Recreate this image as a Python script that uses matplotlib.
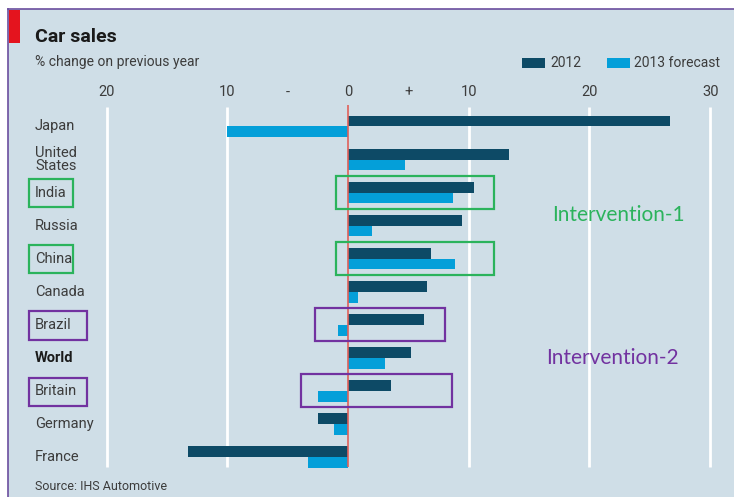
import numpy as np
import matplotlib
matplotlib.use("Agg")
import matplotlib.pyplot as plt
from matplotlib.patches import Rectangle
from matplotlib.transforms import blended_transform_factory

# data (% change on previous year)
countries = ["Japan", "United\nStates", "India", "Russia", "China", "Canada",
             "Brazil", "World", "Britain", "Germany", "France"]
sales_2012 = [26.7, 13.3, 10.4, 9.4, 6.9, 6.5, 6.3, 5.2, 3.6, -2.5, -13.3]
sales_2013 = [-10.0, 4.7, 8.7, 2.0, 8.9, 0.85, -0.8, 3.1, -2.5, -1.2, -3.3]
tick_pos = [-20, -10, -5, 0, 5, 10, 20, 30]
tick_txt = ["20", "10", "-", "0", "+", "10", "20", "30"]
grid_pos = [-20, -10, 10, 20, 30]

W, H = 734, 497
BG = "#cfdee7"
DARK = "#0d4a66"
LIGHT = "#049fd9"
GREEN = "#2bb35c"
PURPLE = "#7232a0"
TXT = "#3c3c3c"

plt.rcParams["font.family"] = ["Roboto", "DejaVu Sans"]

fig = plt.figure(figsize=(W / 100, H / 100), dpi=100, facecolor="white")

def px(x, y, w, h):
    # pixel box (top-left origin) -> figure fraction
    return [x / W, 1 - (y + h) / H, w / W, h / H]

# panel background + purple frame + red tag
fig.patches.append(Rectangle((8 / W, 0), 1, 1 - 9 / H, transform=fig.transFigure,
                             facecolor=BG, edgecolor="none", zorder=-10))
fig.add_artist(plt.Line2D([8 / W, 1], [1 - 9 / H] * 2, color="#6b4e9e", lw=1.2))
fig.add_artist(plt.Line2D([8 / W] * 2, [0, 1 - 9 / H], color="#6b4e9e", lw=1.2))
fig.patches.append(Rectangle((9 / W, 1 - 43 / H), 11 / W, 33 / H, transform=fig.transFigure,
                             facecolor="#e4141e", edgecolor="none"))

fig.text(35 / W, 1 - 37 / H, "Car sales", fontsize=14, fontweight="bold",
         color="#1a1a1a", va="center")
fig.text(35 / W, 1 - 62 / H, "% change on previous year", fontsize=10,
         color=TXT, va="center")
fig.text(35 / W, 1 - 487 / H, "Source: IHS Automotive", fontsize=9,
         color=TXT, va="center")

# legend
fig.patches.append(Rectangle((522 / W, 1 - 68 / H), 23 / W, 10 / H,
                             transform=fig.transFigure, facecolor=DARK))
fig.text(550 / W, 1 - 63 / H, "2012", fontsize=10, color=TXT, va="center")
fig.patches.append(Rectangle((607 / W, 1 - 68 / H), 23 / W, 10 / H,
                             transform=fig.transFigure, facecolor=LIGHT))
fig.text(634 / W, 1 - 63 / H, "2013 forecast", fontsize=10, color=TXT, va="center")

ax = fig.add_axes(px(100, 105, 625, 365))
ax.set_facecolor("none")
ax.set_xlim(-20.55, 31.23)
ax.set_ylim(10.4, -0.65)
for s in ax.spines.values():
    s.set_visible(False)
ax.set_yticks([])
ax.xaxis.tick_top()
ax.set_xticks(tick_pos)
ax.set_xticklabels(tick_txt, fontsize=10.5, color=TXT)
ax.tick_params(axis="x", length=0, pad=4)

y = np.arange(len(countries))
h = 0.33
ax.vlines(grid_pos, -0.6, 10.3, color="white", lw=2, zorder=1)
ax.barh(y - h / 2, sales_2012, height=h, color=DARK, zorder=2)
ax.barh(y + h / 2, sales_2013, height=h, color=LIGHT, zorder=2)
ax.vlines(0, -0.65, 10.3, color="#e0605a", lw=1.2, zorder=3)

# country labels at the left
lab = blended_transform_factory(fig.transFigure, ax.transData)
for i, c in enumerate(countries):
    ax.text(35 / W, i, c, transform=lab, fontsize=10.5, va="center", ha="left",
            color="#1a1a1a" if c == "World" else TXT,
            fontweight="bold" if c == "World" else "normal",
            linespacing=0.95)

# annotation boxes
def mark(name, color, x0, x1, lw_px):
    i = countries.index(name)
    ax.add_patch(Rectangle((x0, i - 0.5), x1 - x0, 1.0, fill=False,
                           edgecolor=color, lw=1.6, zorder=4, clip_on=False))
    ax.add_patch(Rectangle((29 / W, i - 0.4), lw_px / W, 0.85, transform=lab,
                           fill=False, edgecolor=color, lw=1.6, clip_on=False))

mark("India", GREEN, -1.0, 12.1, 44)
mark("China", GREEN, -1.0, 12.1, 44)
mark("Brazil", PURPLE, -2.73, 8.04, 58)
mark("Britain", PURPLE, -3.9, 8.64, 58)

ax.text(22.4, 2.68, "Intervention-1", fontsize=15, color=GREEN, ha="center",
        va="center", family=["Lato", "DejaVu Sans"])
ax.text(21.9, 7.0, "Intervention-2", fontsize=15, color=PURPLE, ha="center",
        va="center", family=["Lato", "DejaVu Sans"])

fig.savefig("out.png", dpi=100, facecolor="white")
